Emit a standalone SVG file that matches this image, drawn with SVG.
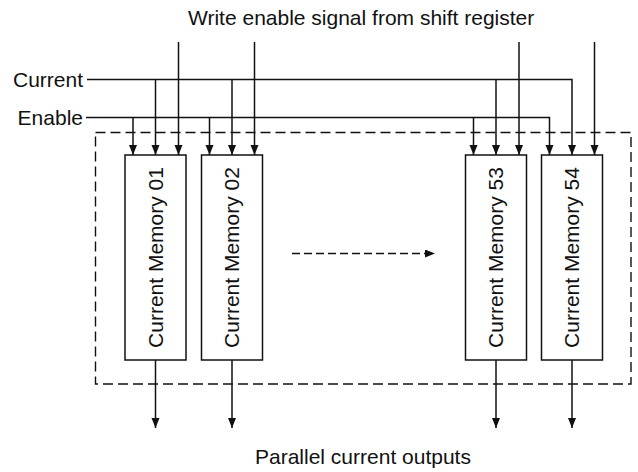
<svg xmlns="http://www.w3.org/2000/svg" width="638" height="472" viewBox="0 0 638 472">
  <defs>
    <marker id="arr" markerUnits="userSpaceOnUse" markerWidth="10" markerHeight="9" refX="10" refY="4" orient="auto">
      <path d="M0,0 L10,4 L0,8 z" fill="#111"/>
    </marker>
    <style>
      text { font-family: "Liberation Sans", Arial, sans-serif; font-size: 21px; fill: #111; }
      .box { fill: #fff; stroke: #111; stroke-width: 1.5; }
      .arrow { fill: none; stroke: #111; stroke-width: 1.5; marker-end: url(#arr); }
      .dash { fill: none; stroke: #111; stroke-width: 1.4; stroke-dasharray: 10 5; }
    </style>
  </defs>
  <rect width="638" height="472" fill="#fff"/>

  <g id="labels">
    <text x="188" y="25">Write enable signal from shift register</text>
    <text x="83" y="87" text-anchor="end">Current</text>
    <text x="83" y="125" text-anchor="end">Enable</text>
    <text x="255" y="464">Parallel current outputs</text>
  </g>

  <g id="array-boundary">
    <rect class="dash" x="95.5" y="132.5" width="535.5" height="251.5"/>
  </g>

  <g id="mem01">
    <rect class="box" x="125" y="155" width="61" height="205"/>
    <text transform="translate(162.5,257.5) rotate(-90)" text-anchor="middle">Current Memory 01</text>
  </g>
  <g id="mem02">
    <rect class="box" x="201.5" y="155" width="61" height="205"/>
    <text transform="translate(239,257.5) rotate(-90)" text-anchor="middle">Current Memory 02</text>
  </g>
  <g id="mem53">
    <rect class="box" x="465.5" y="155" width="61" height="205"/>
    <text transform="translate(503,257.5) rotate(-90)" text-anchor="middle">Current Memory 53</text>
  </g>
  <g id="mem54">
    <rect class="box" x="541.5" y="155" width="61" height="205"/>
    <text transform="translate(579,257.5) rotate(-90)" text-anchor="middle">Current Memory 54</text>
  </g>

  <g id="connectors">
    <!-- Current bus -->
    <path class="arrow" d="M87,79.5 H572 V155"/>
    <path class="arrow" d="M155.5,79.5 V155"/>
    <path class="arrow" d="M232,79.5 V155"/>
    <path class="arrow" d="M496,79.5 V155"/>
    <!-- Enable bus -->
    <path class="arrow" d="M86,117.5 H549.5 V155"/>
    <path class="arrow" d="M133,117.5 V155"/>
    <path class="arrow" d="M209.5,117.5 V155"/>
    <path class="arrow" d="M473.5,117.5 V155"/>
    <!-- Write enable from shift register -->
    <path class="arrow" d="M178.5,42 V155"/>
    <path class="arrow" d="M254.5,42 V155"/>
    <path class="arrow" d="M519,42 V155"/>
    <path class="arrow" d="M594.5,42 V155"/>
    <!-- Outputs -->
    <path class="arrow" d="M155.5,360 V428"/>
    <path class="arrow" d="M232,360 V428"/>
    <path class="arrow" d="M496,360 V428"/>
    <path class="arrow" d="M572,360 V428"/>
    <!-- Continuation -->
    <path class="arrow" d="M292,253.5 H435" stroke-dasharray="8 4"/>
  </g>
</svg>
